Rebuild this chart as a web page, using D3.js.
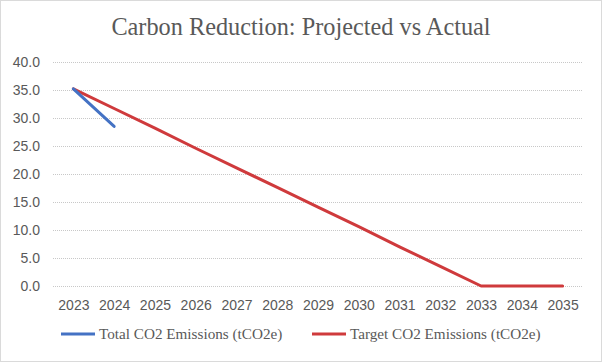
<!DOCTYPE html>
<html>
<head>
<meta charset="utf-8">
<script src="https://cdn.jsdelivr.net/npm/d3@7"></script>
<style>
  html, body { margin: 0; padding: 0; background: #fff; }
  svg { display: block; }
</style>
</head>
<body>
<div id="chart"></div>
<script>
const years = ["2023", "2024", "2025", "2026", "2027", "2028", "2029", "2030", "2031", "2032", "2033", "2034", "2035"];
const totalEmissions = [35.2, 28.5];
const targetEmissions = [35.2, 31.7, 28.2, 24.6, 21.1, 17.6, 14.1, 10.6, 7.0, 3.5, 0.0, 0.0, 0.0];
const yTicks = [0, 5, 10, 15, 20, 25, 30, 35, 40];
const seriesNames = ["Total CO2 Emissions (tCO2e)", "Target CO2 Emissions (tCO2e)"];

const W = 602, H = 362;
const margin = { top: 62, right: 19, bottom: 76, left: 53 };
const colors = { blue: "#4472C4", red: "#CF3A3C", grid: "#C8C8C8", tick: "#595959", title: "#595959" };

const svg = d3.select("#chart").append("svg")
  .attr("width", W)
  .attr("height", H);

svg.append("rect")
  .attr("x", 0.5).attr("y", 0.5)
  .attr("width", W - 1).attr("height", H - 1)
  .attr("fill", "#fff")
  .attr("stroke", "#b4b4b4")
  .attr("stroke-dasharray", "1,1");

const x = d3.scalePoint()
  .domain(years)
  .range([margin.left, W - margin.right])
  .padding(0.5);

const y = d3.scaleLinear()
  .domain([0, 40])
  .range([H - margin.bottom, margin.top]);

// grille + axe y
svg.append("g")
  .attr("transform", `translate(${margin.left},0)`)
  .call(d3.axisLeft(y).tickValues(yTicks).tickFormat(d3.format(".1f"))
    .tickSize(-(W - margin.left - margin.right)).tickPadding(13))
  .call(g => {
    g.select(".domain").remove();
    g.selectAll(".tick line")
      .attr("stroke", colors.grid)
      .attr("stroke-dasharray", "1,1")
      .attr("shape-rendering", "crispEdges");
    g.selectAll(".tick text")
      .attr("fill", colors.tick)
      .style("font-family", "'Liberation Sans', Arial, sans-serif")
      .style("font-size", "14px");
  });

// axe x
svg.append("g")
  .attr("transform", `translate(0,${H - margin.bottom})`)
  .call(d3.axisBottom(x).tickSize(0).tickPadding(14))
  .call(g => {
    g.select(".domain").remove();
    g.selectAll(".tick text")
      .attr("fill", colors.tick)
      .style("font-family", "'Liberation Sans', Arial, sans-serif")
      .style("font-size", "14px");
  });

const line = d3.line()
  .x((d, i) => x(years[i]))
  .y(d => y(d));

svg.append("path")
  .datum(targetEmissions)
  .attr("fill", "none")
  .attr("stroke", colors.red)
  .attr("stroke-width", 3)
  .attr("stroke-linejoin", "round")
  .attr("stroke-linecap", "round")
  .attr("d", line);

svg.append("path")
  .datum(totalEmissions)
  .attr("fill", "none")
  .attr("stroke", colors.blue)
  .attr("stroke-width", 3)
  .attr("stroke-linecap", "round")
  .attr("d", line);

// titre
svg.append("text")
  .attr("x", 301)
  .attr("y", 35)
  .attr("text-anchor", "middle")
  .attr("fill", colors.title)
  .style("font-family", "'Liberation Serif', 'Times New Roman', serif")
  .style("font-size", "24.3px")
  .text("Carbon Reduction: Projected vs Actual");

// légende
const legend = svg.append("g");
const legendItems = [
  { name: seriesNames[0], color: colors.blue, x0: 61 },
  { name: seriesNames[1], color: colors.red, x0: 312 }
];
legendItems.forEach(item => {
  legend.append("line")
    .attr("x1", item.x0).attr("x2", item.x0 + 34)
    .attr("y1", 334).attr("y2", 334)
    .attr("stroke", item.color)
    .attr("stroke-width", 3);
  legend.append("text")
    .attr("x", item.x0 + 38)
    .attr("y", 338.5)
    .attr("fill", colors.title)
    .style("font-family", "'Liberation Serif', 'Times New Roman', serif")
    .style("font-size", "15.2px")
    .text(item.name);
});
</script>
</body>
</html>
